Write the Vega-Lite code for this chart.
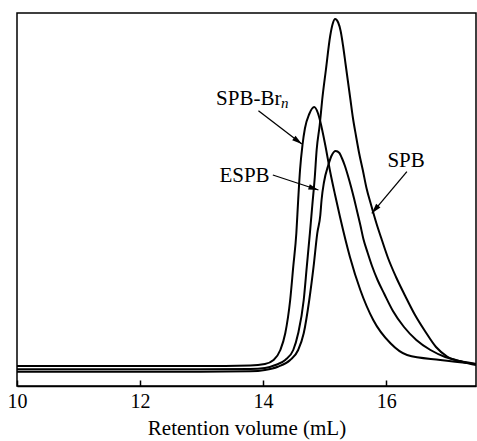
{
  "$schema": "https://vega.github.io/schema/vega-lite/v6.json",
  "width": 459,
  "height": 373,
  "autosize": {"type": "none"},
  "padding": {"left": 17, "top": 13, "right": 1, "bottom": 55},
  "background": "white",
  "config": {"view": {"stroke": "black", "strokeWidth": 1.5}, "font": "Liberation Serif"},
  "datasets": {
    "curves": [
      {"sample": "SPB-Brn", "v": 10.0, "i": 20},
      {"sample": "SPB-Brn", "v": 12.98, "i": 20},
      {"sample": "SPB-Brn", "v": 13.79, "i": 20.5},
      {"sample": "SPB-Brn", "v": 14.03, "i": 22},
      {"sample": "SPB-Brn", "v": 14.17, "i": 26},
      {"sample": "SPB-Brn", "v": 14.28, "i": 36},
      {"sample": "SPB-Brn", "v": 14.36, "i": 52.7},
      {"sample": "SPB-Brn", "v": 14.44, "i": 86},
      {"sample": "SPB-Brn", "v": 14.49, "i": 119.3},
      {"sample": "SPB-Brn", "v": 14.54, "i": 152.7},
      {"sample": "SPB-Brn", "v": 14.57, "i": 186},
      {"sample": "SPB-Brn", "v": 14.6, "i": 216},
      {"sample": "SPB-Brn", "v": 14.64, "i": 241},
      {"sample": "SPB-Brn", "v": 14.68, "i": 257.7},
      {"sample": "SPB-Brn", "v": 14.75, "i": 272},
      {"sample": "SPB-Brn", "v": 14.83, "i": 279},
      {"sample": "SPB-Brn", "v": 14.89, "i": 273},
      {"sample": "SPB-Brn", "v": 14.93, "i": 264.3},
      {"sample": "SPB-Brn", "v": 15.01, "i": 241},
      {"sample": "SPB-Brn", "v": 15.09, "i": 214.3},
      {"sample": "SPB-Brn", "v": 15.17, "i": 191},
      {"sample": "SPB-Brn", "v": 15.25, "i": 169},
      {"sample": "SPB-Brn", "v": 15.41, "i": 129.3},
      {"sample": "SPB-Brn", "v": 15.58, "i": 96},
      {"sample": "SPB-Brn", "v": 15.79, "i": 66},
      {"sample": "SPB-Brn", "v": 16.07, "i": 42.7},
      {"sample": "SPB-Brn", "v": 16.34, "i": 31},
      {"sample": "SPB-Brn", "v": 16.88, "i": 26},
      {"sample": "SPB-Brn", "v": 17.46, "i": 22},

      {"sample": "SPB", "v": 10.0, "i": 16.7},
      {"sample": "SPB", "v": 12.98, "i": 16.7},
      {"sample": "SPB", "v": 13.79, "i": 17},
      {"sample": "SPB", "v": 14.03, "i": 18},
      {"sample": "SPB", "v": 14.2, "i": 21},
      {"sample": "SPB", "v": 14.36, "i": 26},
      {"sample": "SPB", "v": 14.49, "i": 36},
      {"sample": "SPB", "v": 14.57, "i": 52.7},
      {"sample": "SPB", "v": 14.66, "i": 86},
      {"sample": "SPB", "v": 14.71, "i": 119.3},
      {"sample": "SPB", "v": 14.76, "i": 152.7},
      {"sample": "SPB", "v": 14.8, "i": 181},
      {"sample": "SPB", "v": 14.84, "i": 209},
      {"sample": "SPB", "v": 14.87, "i": 236},
      {"sample": "SPB", "v": 14.92, "i": 261},
      {"sample": "SPB", "v": 14.96, "i": 286},
      {"sample": "SPB", "v": 15.02, "i": 316},
      {"sample": "SPB", "v": 15.09, "i": 350},
      {"sample": "SPB", "v": 15.13, "i": 362},
      {"sample": "SPB", "v": 15.17, "i": 367},
      {"sample": "SPB", "v": 15.22, "i": 363.5},
      {"sample": "SPB", "v": 15.26, "i": 355},
      {"sample": "SPB", "v": 15.3, "i": 340},
      {"sample": "SPB", "v": 15.34, "i": 322},
      {"sample": "SPB", "v": 15.38, "i": 304},
      {"sample": "SPB", "v": 15.42, "i": 286},
      {"sample": "SPB", "v": 15.46, "i": 268},
      {"sample": "SPB", "v": 15.51, "i": 250},
      {"sample": "SPB", "v": 15.56, "i": 233},
      {"sample": "SPB", "v": 15.62, "i": 216},
      {"sample": "SPB", "v": 15.68, "i": 198},
      {"sample": "SPB", "v": 15.76, "i": 180},
      {"sample": "SPB", "v": 15.84, "i": 163},
      {"sample": "SPB", "v": 15.93, "i": 146},
      {"sample": "SPB", "v": 16.03, "i": 128},
      {"sample": "SPB", "v": 16.16, "i": 109},
      {"sample": "SPB", "v": 16.31, "i": 90},
      {"sample": "SPB", "v": 16.46, "i": 72},
      {"sample": "SPB", "v": 16.63, "i": 55},
      {"sample": "SPB", "v": 16.81, "i": 39},
      {"sample": "SPB", "v": 16.99, "i": 29.5},
      {"sample": "SPB", "v": 17.25, "i": 24},
      {"sample": "SPB", "v": 17.46, "i": 21},

      {"sample": "ESPB", "v": 10.0, "i": 14.3},
      {"sample": "ESPB", "v": 12.98, "i": 14.3},
      {"sample": "ESPB", "v": 13.79, "i": 14.7},
      {"sample": "ESPB", "v": 14.03, "i": 16},
      {"sample": "ESPB", "v": 14.24, "i": 19.3},
      {"sample": "ESPB", "v": 14.44, "i": 26},
      {"sample": "ESPB", "v": 14.57, "i": 36},
      {"sample": "ESPB", "v": 14.66, "i": 52.7},
      {"sample": "ESPB", "v": 14.75, "i": 86},
      {"sample": "ESPB", "v": 14.82, "i": 119.3},
      {"sample": "ESPB", "v": 14.88, "i": 152.7},
      {"sample": "ESPB", "v": 14.93, "i": 171},
      {"sample": "ESPB", "v": 14.95, "i": 186},
      {"sample": "ESPB", "v": 14.99, "i": 204},
      {"sample": "ESPB", "v": 15.06, "i": 221},
      {"sample": "ESPB", "v": 15.11, "i": 230},
      {"sample": "ESPB", "v": 15.18, "i": 235},
      {"sample": "ESPB", "v": 15.24, "i": 233},
      {"sample": "ESPB", "v": 15.28, "i": 228},
      {"sample": "ESPB", "v": 15.33, "i": 220},
      {"sample": "ESPB", "v": 15.38, "i": 210},
      {"sample": "ESPB", "v": 15.43, "i": 199},
      {"sample": "ESPB", "v": 15.48, "i": 187},
      {"sample": "ESPB", "v": 15.53, "i": 174},
      {"sample": "ESPB", "v": 15.58, "i": 161},
      {"sample": "ESPB", "v": 15.63, "i": 147},
      {"sample": "ESPB", "v": 15.7, "i": 133},
      {"sample": "ESPB", "v": 15.77, "i": 120},
      {"sample": "ESPB", "v": 15.86, "i": 106},
      {"sample": "ESPB", "v": 15.97, "i": 92},
      {"sample": "ESPB", "v": 16.11, "i": 75},
      {"sample": "ESPB", "v": 16.29, "i": 59},
      {"sample": "ESPB", "v": 16.49, "i": 46},
      {"sample": "ESPB", "v": 16.72, "i": 36},
      {"sample": "ESPB", "v": 16.96, "i": 29},
      {"sample": "ESPB", "v": 17.2, "i": 25},
      {"sample": "ESPB", "v": 17.46, "i": 22}
    ],
    "labels": [
      {"key": "SPB-Brn", "text": "SPB-Br", "v": 13.236, "i": 281},
      {"key": "ESPB", "text": "ESPB", "v": 13.29, "i": 204.3},
      {"key": "SPB", "text": "SPB", "v": 16.02, "i": 219.3}
    ],
    "subs": [
      {"key": "SPB-Brn", "text": "n", "v": 14.29, "i": 278.3}
    ],
    "arrows": [
      {"key": "SPB-Brn", "v": 13.924, "i": 275.3, "v2": 14.629, "i2": 242},
      {"key": "ESPB", "v": 14.158, "i": 211, "v2": 14.899, "i2": 196},
      {"key": "SPB", "v": 16.337, "i": 214.3, "v2": 15.767, "i2": 172.7}
    ]
  },
  "layer": [
    {
      "data": {"name": "curves"},
      "mark": {"type": "line", "interpolate": "monotone", "color": "black", "strokeWidth": 2, "clip": true},
      "encoding": {
        "x": {
          "field": "v", "type": "quantitative",
          "scale": {"domain": [10, 17.46], "nice": false, "zero": false},
          "axis": {
            "values": [10, 12, 14, 16], "format": "d", "grid": false,
            "title": "Retention volume (mL)",
            "tickSize": -6, "tickColor": "black", "tickWidth": 1.5,
            "domainColor": "black", "domainWidth": 1.5,
            "labelFont": "Liberation Serif", "labelFontSize": 20, "labelColor": "black",
            "labelPadding": 11, "labelFlush": false, "labelOverlap": false,
            "titleFont": "Liberation Serif", "titleFontSize": 21, "titleFontWeight": "normal",
            "titleColor": "black", "titlePadding": 6
          }
        },
        "y": {"field": "i", "type": "quantitative", "scale": {"domain": [0, 373], "nice": false}, "axis": null},
        "detail": {"field": "sample"}
      }
    },
    {
      "data": {"name": "arrows"},
      "mark": {"type": "rule", "color": "black", "strokeWidth": 1.3},
      "encoding": {
        "x": {"field": "v", "type": "quantitative"},
        "y": {"field": "i", "type": "quantitative"},
        "x2": {"field": "v2"},
        "y2": {"field": "i2"}
      }
    },
    {
      "data": {"name": "arrows"},
      "transform": [{"filter": "datum.key === 'SPB-Brn'"}],
      "mark": {"type": "point", "shape": "M0,0L-0.28,1L0.28,1Z", "filled": true, "color": "black", "opacity": 1, "size": 400, "angle": 127.5},
      "encoding": {"x": {"field": "v2", "type": "quantitative"}, "y": {"field": "i2", "type": "quantitative"}}
    },
    {
      "data": {"name": "arrows"},
      "transform": [{"filter": "datum.key === 'ESPB'"}],
      "mark": {"type": "point", "shape": "M0,0L-0.28,1L0.28,1Z", "filled": true, "color": "black", "opacity": 1, "size": 400, "angle": 108.2},
      "encoding": {"x": {"field": "v2", "type": "quantitative"}, "y": {"field": "i2", "type": "quantitative"}}
    },
    {
      "data": {"name": "arrows"},
      "transform": [{"filter": "datum.key === 'SPB'"}],
      "mark": {"type": "point", "shape": "M0,0L-0.28,1L0.28,1Z", "filled": true, "color": "black", "opacity": 1, "size": 400, "angle": 220.1},
      "encoding": {"x": {"field": "v2", "type": "quantitative"}, "y": {"field": "i2", "type": "quantitative"}}
    },
    {
      "data": {"name": "labels"},
      "mark": {"type": "text", "align": "left", "baseline": "alphabetic", "font": "Liberation Serif", "fontSize": 21, "color": "black"},
      "encoding": {
        "x": {"field": "v", "type": "quantitative"},
        "y": {"field": "i", "type": "quantitative"},
        "text": {"field": "text"}
      }
    },
    {
      "data": {"name": "subs"},
      "mark": {"type": "text", "align": "left", "baseline": "alphabetic", "font": "Liberation Serif", "fontSize": 15, "fontStyle": "italic", "color": "black"},
      "encoding": {
        "x": {"field": "v", "type": "quantitative"},
        "y": {"field": "i", "type": "quantitative"},
        "text": {"field": "text"}
      }
    }
  ]
}
